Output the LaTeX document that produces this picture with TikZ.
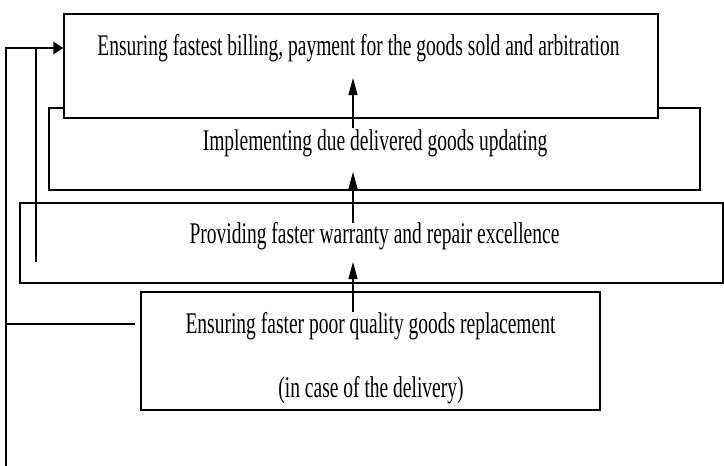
\documentclass[tikz,border=0pt]{standalone}
\usepackage{fontspec}
\setmainfont{Liberation Serif}
\usetikzlibrary{arrows.meta}
\newcommand{\sqz}[1]{\scalebox{0.65}[1]{#1}}

\begin{document}
\begin{tikzpicture}[x=1pt,y=-1pt,
  box/.style = {draw, line width=1.2pt, fill=white, inner sep=0pt},
  lbl/.style = {font=\fontsize{30}{34}\selectfont, inner sep=0pt, anchor=base},
  up/.style = {-{Triangle[length=17pt,width=9pt]}, line width=1.1pt}]
\useasboundingbox (0,0) rectangle (724,466);
% boxes
\node[box, minimum width=703, minimum height=80] (3) at (371.5,243) {};
\node[box, minimum width=651, minimum height=82] (2) at (374.5,149) {};
\node[box, minimum width=594, minimum height=104] (1) at (361,66) {};
\node[box, minimum width=459, minimum height=118] (4) at (370.5,351) {};
% texts
\node[lbl] (t1) at (358.5,55) {\sqz{Ensuring fastest billing, payment for the goods sold and arbitration}};
\node[lbl] (t2) at (375,150) {\sqz{Implementing due delivered goods updating}};
\node[lbl] (t3) at (374.5,243) {\sqz{Providing faster warranty and repair excellence}};
\node[lbl] (t4) at (370.5,333) {\sqz{Ensuring faster poor quality goods replacement}};
\node[lbl] (t5) at (371,397) {\sqz{(in case of the delivery)}};
% arrows up the middle
\coordinate (a1) at (353,128);
\coordinate (a2) at (353,223);
\coordinate (a3) at (353,312);
\draw[up] (a1) -- (a1 |- 0,78);
\draw[up] (a2) -- (a2 |- 0,172);
\draw[up] (a3) -- (a3 |- 0,262);
% feedback lines on the left
\coordinate (j) at (36,48);
\coordinate (k) at (6,48);
\draw[line width=1.1pt] (135,324) -- (6,324);
\draw[line width=1.1pt] (6,466) -- (k) -- (j);
\draw[line width=1.1pt] (36,262) -- (j);
\draw[line width=2.6pt, -{Triangle[length=10pt,width=12pt]}] (j) -- (1.west |- j);
\end{tikzpicture}
\end{document}
